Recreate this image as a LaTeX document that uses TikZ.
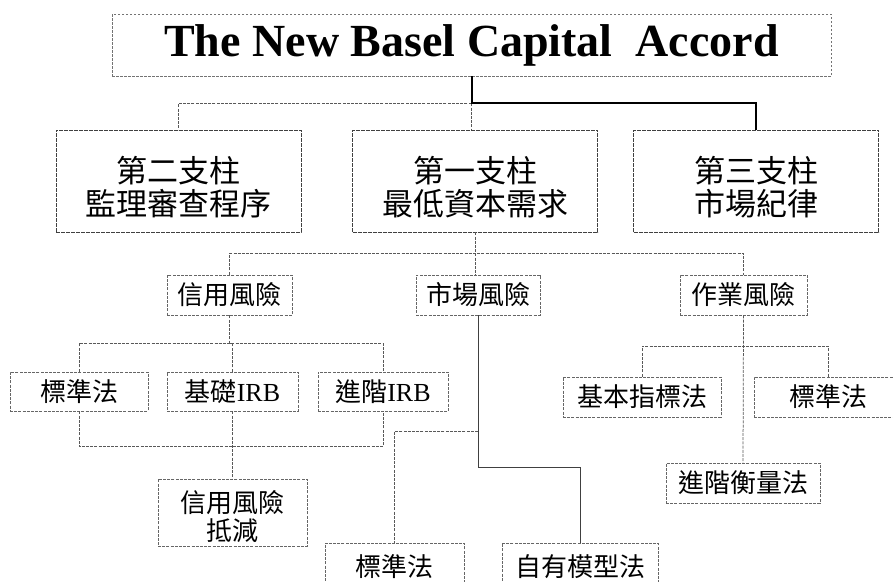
\documentclass[tikz,border=0pt]{standalone}
\usepackage{fontspec}
\usetikzlibrary{calc}
\setmainfont{Liberation Serif}
\newfontfamily\cjk{Noto Sans CJK TC}
\newcommand\zh[1]{{\cjk #1}}
\newcommand\topstrut[1]{\rule{0pt}{#1}}
\tikzset{
  box/.style={draw=black!60, dash pattern=on 3pt off 1.2pt, line width=0.7pt, inner sep=0pt, align=center},
  titlebox/.style={box, draw=black!55, dash pattern=on 2.5pt off 1.5pt},
  pillar/.style={box, draw=black!75, dash pattern=on 4pt off 1pt, line width=0.9pt,
    minimum width=245pt, minimum height=102pt, font=\fontsize{31}{33}\selectfont},
  riskbox/.style={box, minimum height=40pt, font=\fontsize{26}{28}\selectfont},
  link/.style={draw=black!65, dash pattern=on 3pt off 1.2pt, line width=0.75pt},
  boldlink/.style={draw=black, line width=2pt},
  solidlink/.style={draw=black!75, line width=0.9pt},
}
\begin{document}
\begin{tikzpicture}[x=1pt,y=-1pt]
\useasboundingbox (0,0) rectangle (893,581);
\clip (0,0) rectangle (893,581);
% title
\node[titlebox, minimum width=719pt, minimum height=62pt, font=\bfseries\fontsize{46}{50}\selectfont]
  (title) at (471.5,45) {The New Basel Capital\ \ Accord};
% pillars
\node[pillar] (p2) at (178.5,181) {\topstrut{39pt}\zh{第二支柱}\\\zh{監理審查程序}};
\node[pillar] (p1) at (475,181) {\topstrut{39pt}\zh{第一支柱}\\\zh{最低資本需求}};
\node[pillar] (p3) at (756,181) {\topstrut{39pt}\zh{第三支柱}\\\zh{市場紀律}};
% risks
\node[riskbox, minimum width=125pt] (cr) at (229.5,295) {\zh{信用風險}};
\node[riskbox, minimum width=124pt] (mr) at (478,295) {\zh{市場風險}};
\node[riskbox, minimum width=127pt] (or) at (743.5,295) {\zh{作業風險}};
% credit methods
\node[riskbox, minimum width=138pt, minimum height=39pt] (sl) at (79,391.5) {\zh{標準法}};
\node[riskbox, minimum width=131pt, minimum height=39pt] (fi) at (232.5,391.5) {\zh{基礎}IRB};
\node[riskbox, minimum width=130pt, minimum height=39pt] (ai) at (383,391.5) {\zh{進階}IRB};
\node[riskbox, minimum width=149pt, minimum height=67pt] (crm) at (232.5,512.5) {\topstrut{31pt}\zh{信用風險}\\\zh{抵減}};
% market methods
\node[riskbox, minimum width=139pt, minimum height=48pt] (sb) at (394.5,567) {\zh{標準法}};
\node[riskbox, minimum width=156pt, minimum height=48pt] (im) at (580,567) {\zh{自有模型法}};
% operational methods
\node[riskbox, minimum width=158pt] (bi) at (642,397) {\zh{基本指標法}};
\node[riskbox, minimum width=148pt] (sr) at (828,397) {\zh{標準法}};
\node[riskbox, minimum width=154pt] (aa) at (743,483) {\zh{進階衡量法}};
% connectors: title to pillars
\coordinate (j0) at ($(title.south)+(0,27)$);
\draw[link] (j0) -| (p2.north);
\draw[link] (j0) -- (j0 |- p1.north);
\draw[boldlink] (title.south) -- (j0) -| (p3.north);
% pillar 1 to risks
\coordinate (j1) at ($(p1.south)+(0,21)$);
\draw[link] (p1.south) -- (j1);
\draw[link] (cr.north) |- (j1) -| (or.north);
\draw[link] (j1) -- (j1 |- mr.north);
% credit risk
\coordinate (j2) at ($(cr.south)+(0,28)$);
\draw[link] (cr.south) -- (j2);
\draw[link] (sl.north) |- (j2) -| (ai.north);
\draw[link] (fi.north) -- (fi.north |- j2);
\coordinate (j3) at ($(sl.south)+(0,35)$);
\draw[link] (sl.south) -- (j3) -| (ai.south);
\draw[link] (fi.south) -- (crm.north);
% market risk
\coordinate (j4) at ($(mr.south)+(0,116)$);
\coordinate (j5) at ($(mr.south)+(0,152)$);
\draw[solidlink] (mr.south) -- (j5) -| (im.north);
\draw[link] (j4) -| (sb.north);
% operational risk
\coordinate (j6) at ($(or.south)+(0,31)$);
\draw[link] (or.south) -- (aa.north);
\draw[link] (bi.north) |- (j6) -| (sr.north);
\end{tikzpicture}
\end{document}
